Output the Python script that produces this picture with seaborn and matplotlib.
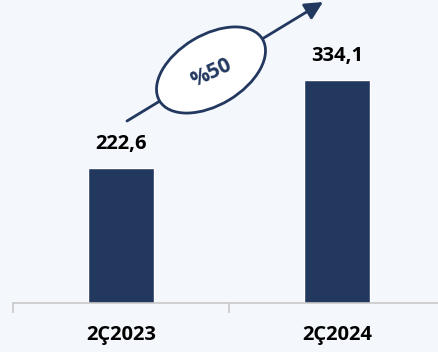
import matplotlib
matplotlib.use("Agg")
import matplotlib.pyplot as plt
import seaborn as sns
import pandas as pd
from matplotlib.patches import Ellipse
from matplotlib.transforms import IdentityTransform

categories = ["2Ç2023", "2Ç2024"]
values = [222.6, 334.1]
value_labels = ["222,6", "334,1"]
growth_label = "%50"

BG = "#f4f7fb"
NAVY = "#22385f"

sns.set_theme(style="white")
plt.rcParams['font.family'] = ['Open Sans', 'DejaVu Sans']

W, H = 438, 352
fig = plt.figure(figsize=(W / 100, H / 100), dpi=100, facecolor=BG)
ax = fig.add_axes([13 / W, 49 / H, 432 / W, 303 / H])
ax.set_facecolor(BG)

df = pd.DataFrame({"cat": categories, "val": values})
sns.barplot(data=df, x="cat", y="val", color=NAVY, width=0.31, saturation=1, ax=ax)

ax.set_xlim(-0.5, 1.5)
ax.set_ylim(51.5, 435.5)
for s in ["top", "right", "left"]:
    ax.spines[s].set_visible(False)
ax.spines["bottom"].set_color("#c9c9c9")
ax.spines["bottom"].set_linewidth(1.2)
ax.set_yticks([])
ax.set_xlabel("")
ax.set_ylabel("")
ax.tick_params(axis="x", which="major", length=0, pad=16, labelsize=14.5,
               labelcolor="black")
for lbl in ax.get_xticklabels():
    lbl.set_fontweight("bold")
ax.set_xticks([-0.5, 0.5, 1.5], minor=True)
ax.tick_params(axis="x", which="minor", bottom=True, length=7, width=1.2,
               color="#c9c9c9", direction="out")

for i, (v, t) in enumerate(zip(values, value_labels)):
    ax.annotate(t, (i, v), xytext=(0, 10), textcoords="offset points",
                ha="center", va="bottom", fontsize=14.5, fontweight="bold",
                color="black")

# growth arrow and ellipse (figure pixel coordinates)
ax.annotate("", xy=(323, H - 2), xytext=(127, H - 121),
            xycoords="figure pixels", textcoords="figure pixels",
            arrowprops=dict(arrowstyle="-|>,head_length=0.9,head_width=0.45",
                            color=NAVY, lw=2, shrinkA=0, shrinkB=0),
            annotation_clip=False)
ell = Ellipse((211, H - 70), width=120, height=70, angle=31,
              facecolor="white", edgecolor=NAVY, lw=2,
              transform=IdentityTransform(), zorder=5)
fig.patches.append(ell)
fig.text(211 / W, 1 - 73 / H, growth_label, rotation=25, ha="center",
         va="center", fontsize=15, fontweight="bold", color=NAVY, zorder=6)

fig.savefig("out.png", dpi=100, facecolor=BG)
